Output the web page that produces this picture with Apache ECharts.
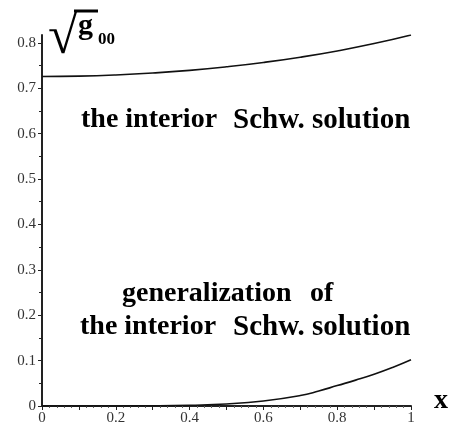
<!DOCTYPE html>
<html>
<head>
<meta charset="utf-8">
<script src="https://cdn.jsdelivr.net/npm/echarts@6/dist/echarts.min.js"></script>
<style>html,body{margin:0;padding:0;background:#fff;}#c{width:449px;height:428px;}</style>
</head>
<body>
<div id="c"></div>
<script>
// x positions for both curves
const xUpper = [0, 0.1, 0.2, 0.3, 0.4, 0.5, 0.6, 0.7, 0.8, 0.9, 1.0];
const yUpper = [0.726, 0.7268, 0.7293, 0.7335, 0.7394, 0.7472, 0.7568, 0.7684, 0.7822, 0.7984, 0.8173];
const xLower = [0, 0.1, 0.2, 0.3, 0.4, 0.5, 0.6, 0.7, 0.75, 0.8, 0.85, 0.9, 0.95, 1.0];
const yLower = [0, 0, 0.0001, 0.0005, 0.0018, 0.0045, 0.011, 0.023, 0.033, 0.045, 0.057, 0.070, 0.085, 0.102];
const yMajorTicks = [0, 0.1, 0.2, 0.3, 0.4, 0.5, 0.6, 0.7, 0.8];
const yMinorTicks = [0.05, 0.15, 0.25, 0.35, 0.45, 0.55, 0.65, 0.75];
const xTickLabels = ['0', '0.2', '0.4', '0.6', '0.8', '1'];
const yRange = [0, 0.8173];
const xRange = [0, 1];

const serif = '"Liberation Serif", "DejaVu Serif", serif';
const chart = echarts.init(document.getElementById('c'), null, {renderer: 'canvas'});
const fmtY = v => (Math.abs(v) < 1e-9 ? '0' : (+v.toFixed(2)).toString());
const fmtX = v => {
  const s = (Math.abs(v) < 1e-9 ? '0' : (+v.toFixed(2)).toString());
  return xTickLabels.indexOf(s) >= 0 ? s : '';
};
const axisColor = '#222';
chart.setOption({
  animation: false,
  backgroundColor: '#fff',
  grid: {left: 42, right: 38, top: 35, bottom: 22, containLabel: false},
  xAxis: {
    type: 'value', min: xRange[0], max: xRange[1], interval: 0.1,
    axisLine: {show: true, onZero: false, lineStyle: {color: axisColor, width: 2}},
    axisTick: {show: true, length: 4, lineStyle: {color: axisColor, width: 1}},
    minorTick: {show: true, splitNumber: 5, length: 2, lineStyle: {color: '#666', width: 1}},
    axisLabel: {formatter: fmtX, margin: 5, color: '#333', fontFamily: serif, fontSize: 15},
    splitLine: {show: false}
  },
  yAxis: [{
    type: 'value', min: yRange[0], max: yRange[1],
    axisLine: {show: true, onZero: false, lineStyle: {color: axisColor, width: 2}},
    axisTick: {show: true, length: 4, customValues: yMajorTicks, lineStyle: {color: axisColor, width: 1}},
    axisLabel: {customValues: yMajorTicks, formatter: fmtY, margin: 6, color: '#333', fontFamily: serif, fontSize: 15},
    splitLine: {show: false}
  }, {
    type: 'value', min: yRange[0], max: yRange[1], position: 'left',
    axisLine: {show: false},
    axisTick: {show: true, length: 3, customValues: yMinorTicks, lineStyle: {color: axisColor, width: 1}},
    axisLabel: {show: false},
    splitLine: {show: false}
  }],
  series: [{
    type: 'line', showSymbol: false, smooth: true, yAxisIndex: 0,
    data: xUpper.map((x, i) => [x, yUpper[i]]),
    lineStyle: {color: '#111', width: 1.6}
  }, {
    type: 'line', showSymbol: false, smooth: true, yAxisIndex: 0,
    data: xLower.map((x, i) => [x, yLower[i]]),
    lineStyle: {color: '#111', width: 1.6}
  }],
  graphic: [
    {type: 'text', left: 48, top: 12, style: {text: '√', font: 'bold 54px ' + serif, fill: '#000'}},
    {type: 'line', shape: {x1: 74, y1: 11, x2: 98, y2: 11}, style: {stroke: '#000', lineWidth: 3}},
    {type: 'text', left: 78, top: 11, style: {text: 'g', font: 'bold 30px ' + serif, fill: '#000'}},
    {type: 'text', left: 98, top: 31, style: {text: '00', font: 'bold 17px ' + serif, fill: '#000'}},
    {type: 'text', left: 81, top: 106, style: {text: 'the interior', font: 'bold 28px ' + serif, fill: '#000'}},
    {type: 'text', left: 233, top: 106, style: {text: 'Schw. solution', font: 'bold 29px ' + serif, fill: '#000'}},
    {type: 'text', left: 122, top: 280, style: {text: 'generalization', font: 'bold 28px ' + serif, fill: '#000'}},
    {type: 'text', left: 310, top: 280, style: {text: 'of', font: 'bold 28px ' + serif, fill: '#000'}},
    {type: 'text', left: 80, top: 313, style: {text: 'the interior', font: 'bold 28px ' + serif, fill: '#000'}},
    {type: 'text', left: 233, top: 313, style: {text: 'Schw. solution', font: 'bold 29px ' + serif, fill: '#000'}},
    {type: 'text', left: 434, top: 387, style: {text: 'x', font: 'bold 28px ' + serif, fill: '#000'}}
  ]
});
</script>
</body>
</html>
